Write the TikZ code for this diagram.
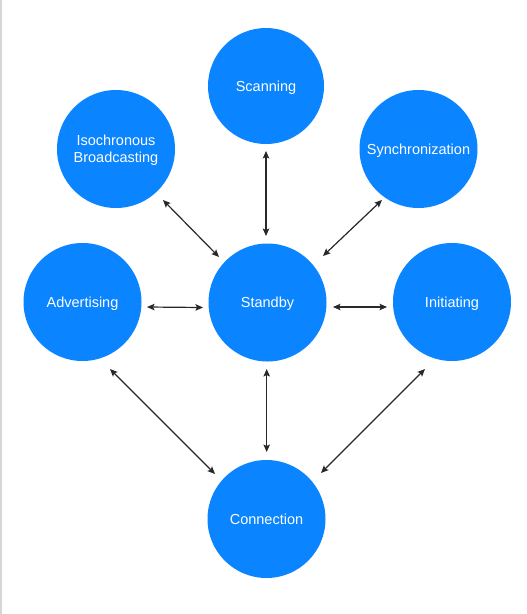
\documentclass[tikz,border=0pt]{standalone}
\usepackage{fontspec}
\setmainfont{Liberation Sans}
\usetikzlibrary{arrows.meta}
\definecolor{bubble}{RGB}{10,132,255}
\definecolor{arrowc}{RGB}{40,40,40}
\definecolor{edgegray}{RGB}{214,214,214}
\tikzset{
  state/.style={circle, fill=bubble, draw=none, minimum size=118pt, inner sep=0pt, outer sep=0pt,
    text=white, align=center, text depth=0pt, font=\fontsize{14.5}{17}\selectfont},
  link/.style={draw=arrowc, line width=1.2pt, {Stealth[length=7.5pt,width=6.5pt,inset=1.5pt]}-{Stealth[length=7.5pt,width=6.5pt,inset=1.5pt]}}
}
\begin{document}
\begin{tikzpicture}[x=1pt,y=-1pt]
\useasboundingbox (0,0) rectangle (527,614);
\fill[white] (0,0) rectangle (527,614);
\fill[edgegray] (0,0) rectangle (1.7,614);

\node[state, minimum size=116pt] (scan) at (266,86) {Scanning};
\node[state] (iso) at (116,149) {Isochronous\\Broadcasting};
\node[state] (sync) at (418.5,149) {Synchronization};
\node[state] (adv) at (82.5,302) {Advertising};
\node[state] (stby) at (267.5,302.5) {Standby};
\node[state] (init) at (452,302) {Initiating};
\node[state] (conn) at (266.5,519) {Connection};

\draw[link] ([shift={(0,65)}]scan.center) -- ([shift={(-1.5,-66.5)}]stby.center);
\draw[link] ([shift={(47,51)}]iso.center) -- ([shift={(-48.5,-45.5)}]stby.center);
\draw[link] ([shift={(-36.5,51)}]sync.center) -- ([shift={(55.5,-46.5)}]stby.center);
\draw[link] ([shift={(64.5,5)}]adv.center) -- ([shift={(-64.5,5)}]stby.center);
\draw[link] ([shift={(65.5,4.5)}]stby.center) -- ([shift={(-65,5)}]init.center);
\draw[link] ([shift={(27.5,67)}]adv.center) -- ([shift={(-51.5,-45)}]conn.center);
\draw[link] ([shift={(-0.8,66.5)}]stby.center) -- ([shift={(0.2,-67)}]conn.center);
\draw[link] ([shift={(-27,67)}]init.center) -- ([shift={(54.5,-46)}]conn.center);
\end{tikzpicture}
\end{document}
